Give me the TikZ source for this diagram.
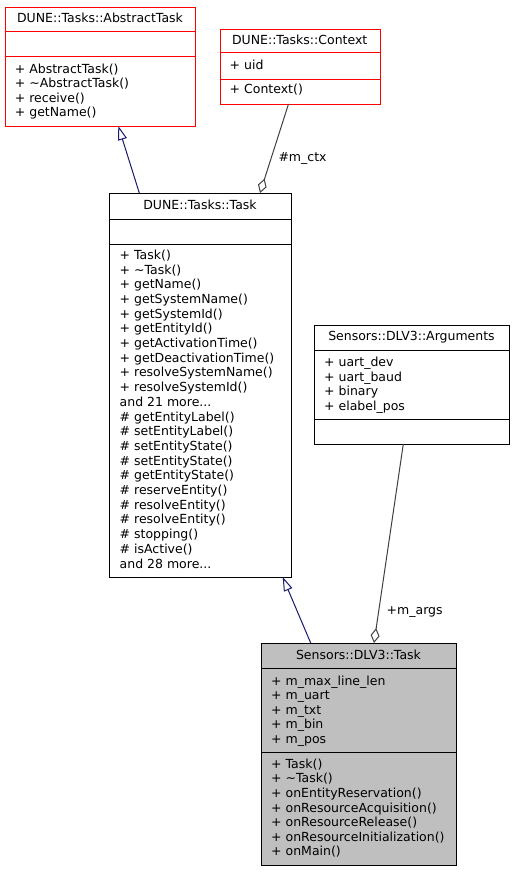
\documentclass[tikz,border=0pt]{standalone}
\usepackage{fontspec}
\setmainfont{DejaVu Sans}
\usetikzlibrary{arrows.meta,calc}
\definecolor{inhcol}{HTML}{191970}
\definecolor{usecol}{HTML}{404040}
\definecolor{boxfill}{HTML}{BFBFBF}
\newcommand\mydots{...}
\tikzset{
  classbox/.style={draw=black, fill=white, line width=1pt, rectangle, inner sep=0pt, anchor=north west},
  redbox/.style={classbox, draw=red},
  graybox/.style={classbox, fill=boxfill},
  sepline/.style={line width=1pt},
  txt/.style={anchor=base west, inner sep=0pt, font=\fontsize{12.5}{14}\selectfont},
  ttl/.style={anchor=base, inner sep=0pt, font=\fontsize{12.5}{14}\selectfont},
  inh/.style={draw=inhcol, line width=1pt, -{Triangle[open, length=14pt, width=9pt]}},
  agg/.style={draw=usecol, line width=1pt, -{Diamond[open, length=15pt, width=9pt]}},
  lbl/.style={anchor=base west, inner sep=0pt, font=\fontsize{12.5}{14}\selectfont}
}
\begin{document}
\begin{tikzpicture}[x=1pt, y=-1pt]
\fill[white] (0,0) rectangle (515,872);
\useasboundingbox (0,0) rectangle (515,872);

% ---- AbstractTask
\node[redbox, minimum width=190.5pt, minimum height=119pt] (abs) at (4.5,7) {};
\draw[sepline, red] (4.5,32) -- (195,32);
\draw[sepline, red] (4.5,57) -- (195,57);
\node[ttl] (absT) at (100,22.7) {DUNE::Tasks::AbstractTask};
\node[txt] (absM1) at (14.7,73.3) {+ AbstractTask()};
\node[txt] (absM2) at (14.7,87.8) {+ \textasciitilde AbstractTask()};
\node[txt] (absM3) at (14.7,102.3) {+ receive()};
\node[txt] (absM4) at (14.7,116.8) {+ getName()};

% ---- Context
\node[redbox, minimum width=160.5pt, minimum height=75pt] (ctx) at (219.5,29) {};
\draw[sepline, red] (219.5,53) -- (380,53);
\draw[sepline, red] (219.5,80) -- (380,80);
\node[ttl] (ctxT) at (299.7,45) {DUNE::Tasks::Context};
\node[txt] (ctxA1) at (229.5,69.3) {+ uid};
\node[txt] (ctxM1) at (229.5,94) {+ Context()};

% ---- Task
\node[classbox, minimum width=182pt, minimum height=384pt] (task) at (109,193) {};
\draw[sepline] (109,219) -- (291,219);
\draw[sepline] (109,244) -- (291,244);
\node[ttl] (taskT) at (200,209.3) {DUNE::Tasks::Task};
\foreach \t [count=\i from 0] in {
  {+ Task()},{+ \textasciitilde Task()},{+ getName()},{+ getSystemName()},{+ getSystemId()},
  {+ getEntityId()},{+ getActivationTime()},{+ getDeactivationTime()},{+ resolveSystemName()},
  {+ resolveSystemId()},{and 21 more\mydots},{\# getEntityLabel()},{\# setEntityLabel()},
  {\# setEntityState()},{\# setEntityState()},{\# getEntityState()},{\# reserveEntity()},
  {\# resolveEntity()},{\# resolveEntity()},{\# stopping()},{\# isActive()},{and 28 more\mydots}}
  \node[txt] (taskM\i) at (119.5,259.3+14.7*\i) {\t};

% ---- Arguments
\node[classbox, minimum width=195pt, minimum height=119pt] (args) at (314,325) {};
\draw[sepline] (314,350) -- (509,350);
\draw[sepline] (314,419) -- (509,419);
\node[ttl] (argsT) at (411.5,340.7) {Sensors::DLV3::Arguments};
\foreach \t [count=\i from 0] in {{+ uart\_dev},{+ uart\_baud},{+ binary},{+ elabel\_pos}}
  \node[txt] (argsA\i) at (324,366.7+14.5*\i) {\t};

% ---- DLV3 Task
\node[graybox, minimum width=195pt, minimum height=222pt] (dlv) at (261,643) {};
\draw[sepline] (261,668.5) -- (456,668.5);
\draw[sepline] (261,752.5) -- (456,752.5);
\node[ttl] (dlvT) at (358.5,659) {Sensors::DLV3::Task};
\foreach \t [count=\i from 0] in {{+ m\_max\_line\_len},{+ m\_uart},{+ m\_txt},{+ m\_bin},{+ m\_pos}}
  \node[txt] (dlvA\i) at (271,685+14.5*\i) {\t};
\foreach \t [count=\i from 0] in {{+ Task()},{+ \textasciitilde Task()},{+ onEntityReservation()},
  {+ onResourceAcquisition()},{+ onResourceRelease()},{+ onResourceInitialization()},{+ onMain()}}
  \node[txt] (dlvM\i) at (271,768.3+14.6*\i) {\t};

% ---- connectors
\coordinate (taskTopL) at (139.3,193);
\coordinate (absBot) at (118.3,126);
\draw[inh] (taskTopL) -- (absBot);

\coordinate (ctxBot) at (288.5,104);
\coordinate (taskTopR) at (260,193);
\draw[agg] (ctxBot) -- (taskTopR);
\node[lbl] (lctx) at (278.3,161.7) {\#m\_ctx};

\coordinate (dlvTopL) at (310.7,643);
\coordinate (taskBot) at (282.7,577);
\draw[inh] (dlvTopL) -- (taskBot);

\coordinate (argsBot) at (403.3,444);
\coordinate (dlvTopR) at (374,643);
\draw[agg] (argsBot) -- (dlvTopR);
\node[lbl] (largs) at (386.5,614) {+m\_args};
\end{tikzpicture}
\end{document}
